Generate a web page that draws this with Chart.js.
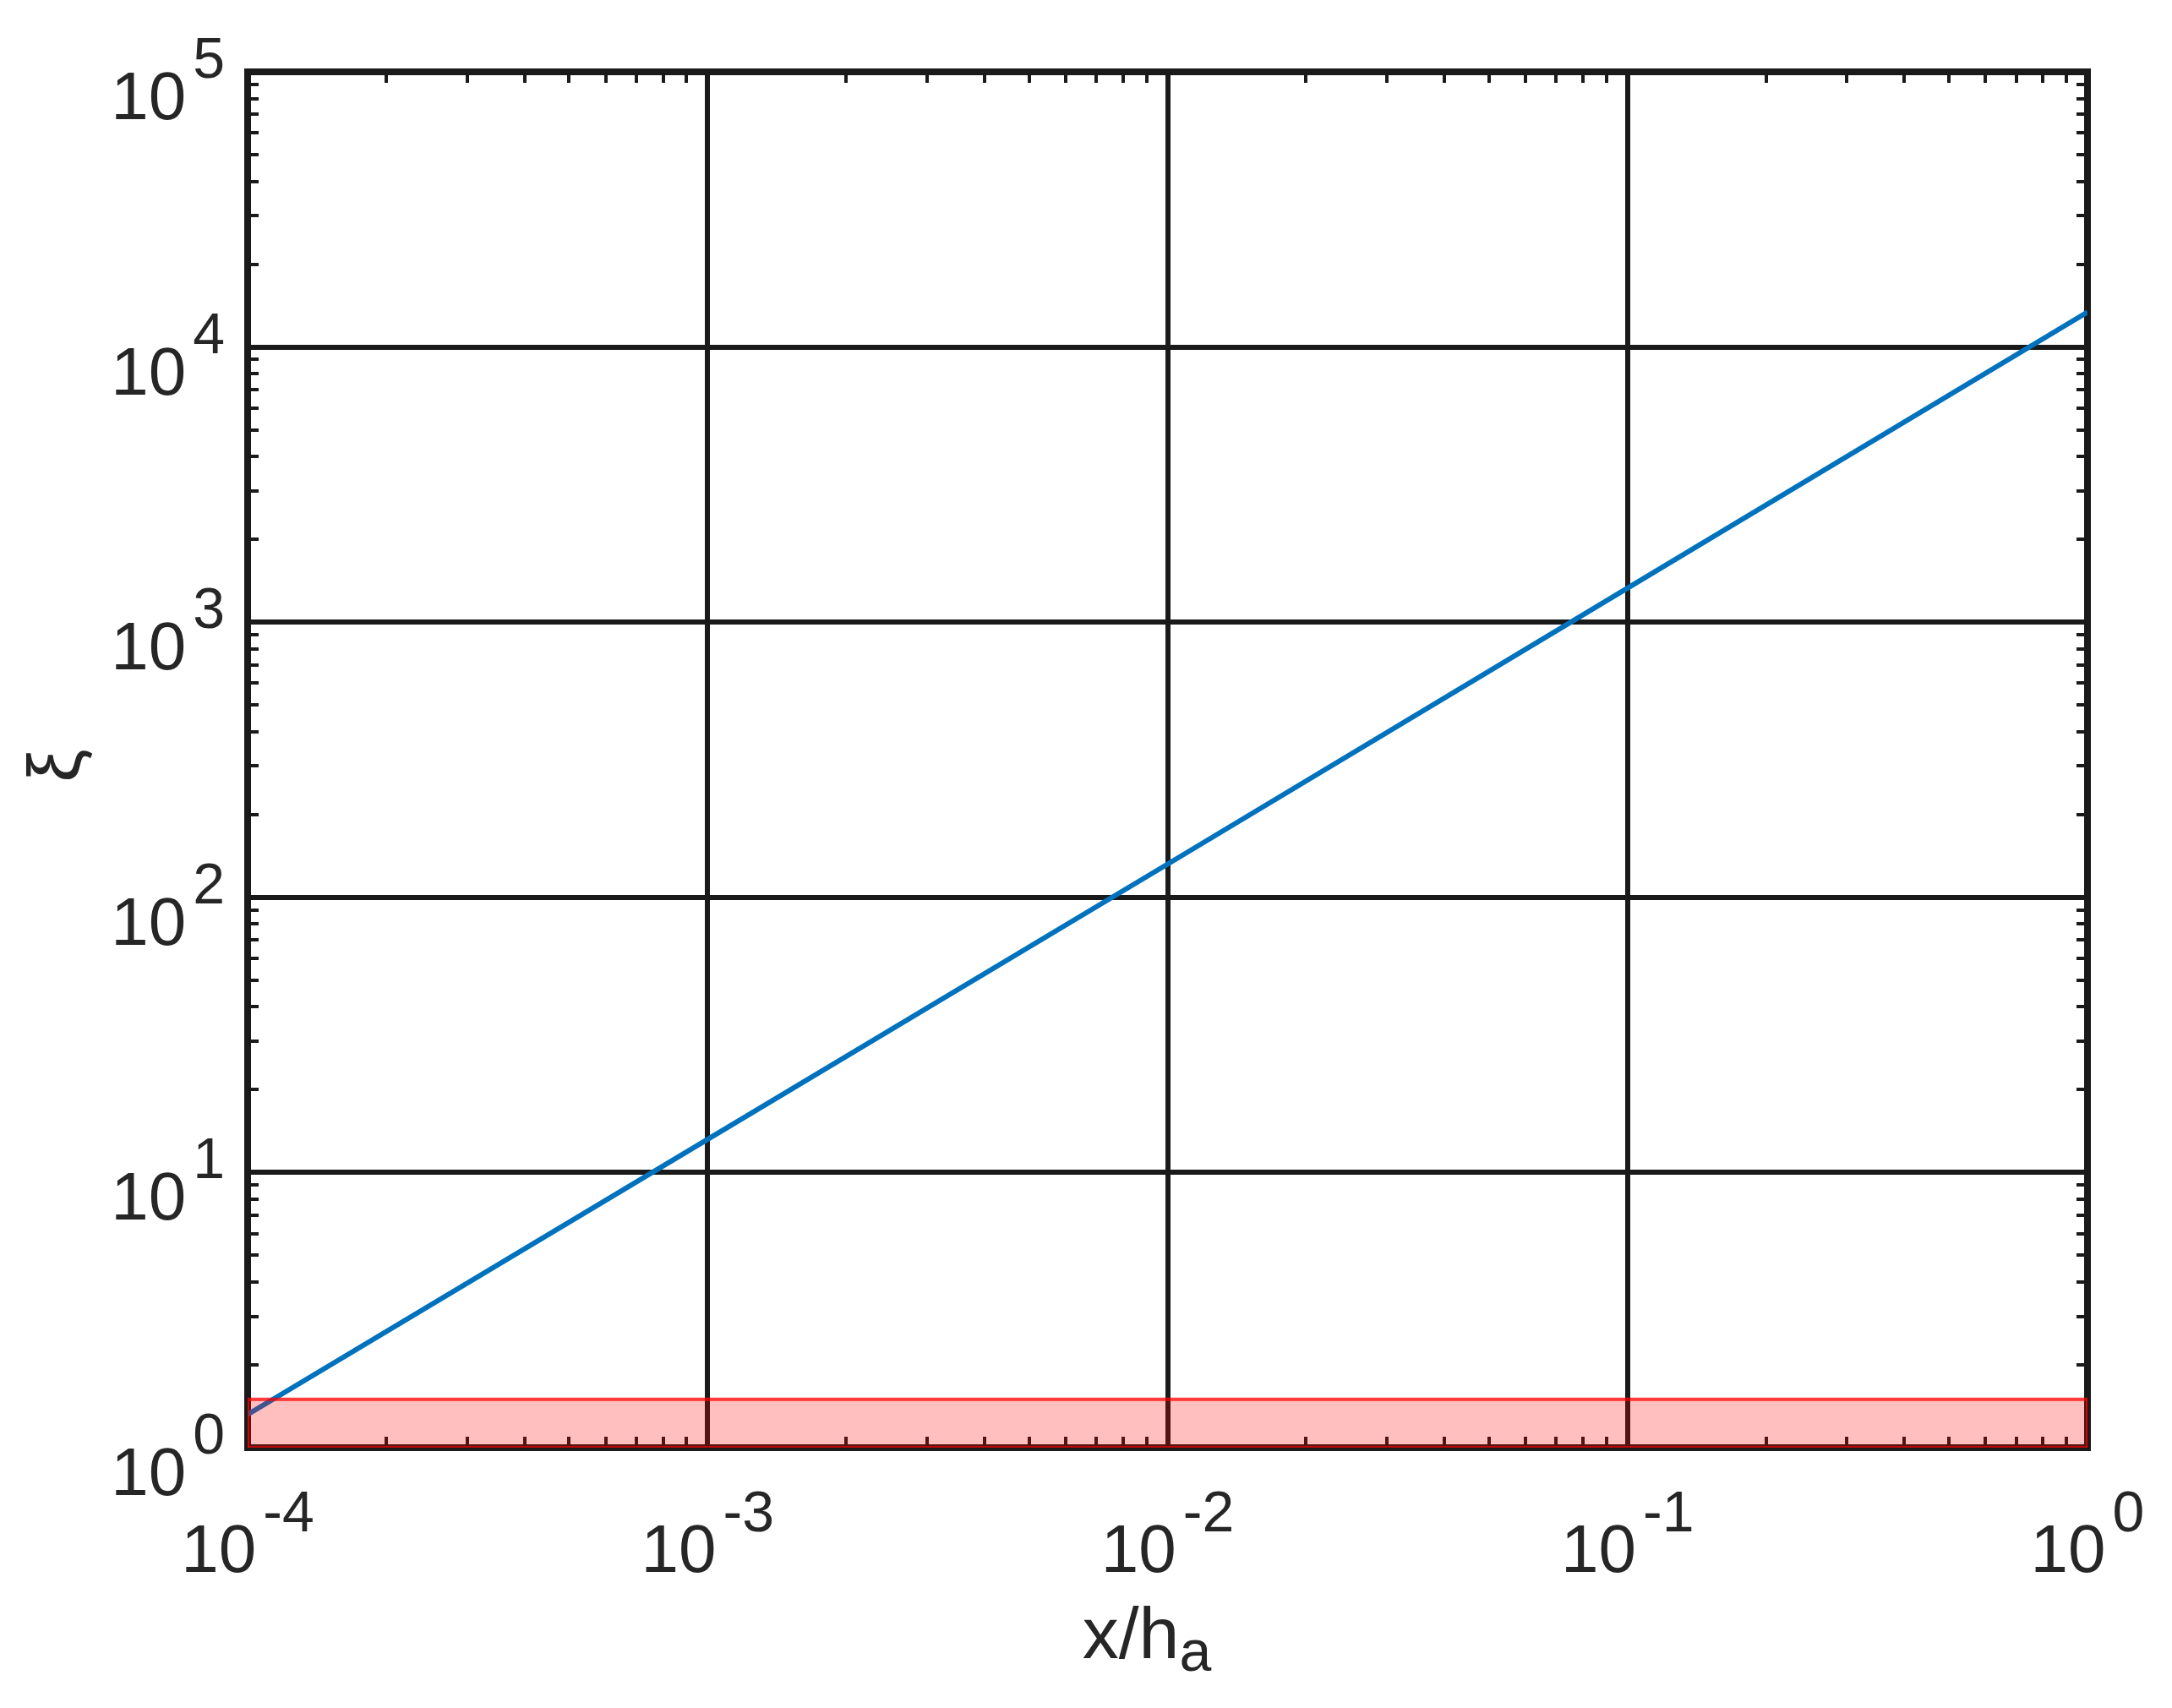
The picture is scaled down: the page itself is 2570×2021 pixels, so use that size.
<!DOCTYPE html>
<html>
<head>
<meta charset="utf-8">
<script src="https://cdn.jsdelivr.net/npm/chart.js@4.4.0/dist/chart.umd.min.js"></script>
<style>
  html, body { margin: 0; padding: 0; background: #ffffff; }
  canvas { display: block; }
</style>
</head>
<body>
<canvas id="c" width="2570" height="2021"></canvas>
<script>
// ---- data ----
const xTickExps = [-4, -3, -2, -1, 0];
const yTickExps = [0, 1, 2, 3, 4, 5];
const xValues = [1e-4, 1e-3, 1e-2, 1e-1, 1];
const xiValues = [1.32, 13.2, 132, 1330, 13400];
const bandX = [1e-4, 1e-4, 1, 1];
const bandY = [1, 1.5, 1.5, 1];
const bandBottomX = [1e-4, 1];
const bandBottomY = [1, 1];
const xTitle = 'x/h';
const xTitleSub = 'a';
const yTitle = 'ξ';

const FONT = '"Liberation Sans", Arial, Helvetica, sans-serif';
const TEXT = '#262626';
const INK = '#1a1a1a';

const decades = exps => exps.map(e => ({ value: Math.pow(10, e) }));

const decorPlugin = {
  id: 'decor',
  beforeDatasetsDraw(chart) {
    const ctx = chart.ctx;
    const a = chart.chartArea;
    const xs = chart.scales.x, ys = chart.scales.y;
    ctx.save();
    // minor ticks
    ctx.strokeStyle = INK;
    ctx.lineWidth = 4;
    const tl = 13;
    ctx.beginPath();
    for (let i = 0; i < xTickExps.length - 1; i++) {
      for (let m = 2; m <= 9; m++) {
        const px = Math.round(xs.getPixelForValue(m * Math.pow(10, xTickExps[i])));
        ctx.moveTo(px, a.bottom); ctx.lineTo(px, a.bottom - tl);
        ctx.moveTo(px, a.top); ctx.lineTo(px, a.top + tl);
      }
    }
    for (let i = 0; i < yTickExps.length - 1; i++) {
      for (let m = 2; m <= 9; m++) {
        const py = Math.round(ys.getPixelForValue(m * Math.pow(10, yTickExps[i])));
        ctx.moveTo(a.left, py); ctx.lineTo(a.left + tl, py);
        ctx.moveTo(a.right, py); ctx.lineTo(a.right - tl, py);
      }
    }
    ctx.stroke();
    // frame
    ctx.lineWidth = 8;
    ctx.strokeStyle = INK;
    ctx.strokeRect(a.left, a.top, a.right - a.left, a.bottom - a.top);
    ctx.restore();
  },
  afterDraw(chart) {
    const ctx = chart.ctx;
    const a = chart.chartArea;
    const xs = chart.scales.x, ys = chart.scales.y;
    ctx.save();
    ctx.fillStyle = TEXT;
    ctx.textBaseline = 'alphabetic';
    const baseFont = '80px ' + FONT;
    const supFont = '68px ' + FONT;
    const gap = 8;
    // x tick labels
    xTickExps.forEach(e => {
      const px = xs.getPixelForValue(Math.pow(10, e));
      ctx.font = baseFont;
      const wb = ctx.measureText('10').width;
      ctx.font = supFont;
      const sup = String(e);
      const ws = ctx.measureText(sup).width;
      const start = px - (wb + gap + ws) / 2;
      ctx.textAlign = 'left';
      ctx.font = baseFont;
      ctx.fillText('10', start, a.bottom + 147);
      ctx.font = supFont;
      ctx.fillText(sup, start + wb + gap, a.bottom + 99);
    });
    // y tick labels
    const rightEdge = 266;
    yTickExps.forEach(e => {
      const py = ys.getPixelForValue(Math.pow(10, e));
      ctx.font = supFont;
      const sup = String(e);
      const ws = ctx.measureText(sup).width;
      ctx.textAlign = 'right';
      ctx.fillText(sup, rightEdge, py + 7);
      ctx.font = baseFont;
      ctx.fillText('10', rightEdge - ws - gap, py + 56);
    });
    // x title
    ctx.textAlign = 'left';
    ctx.font = '86px ' + FONT;
    const wt = ctx.measureText(xTitle).width;
    ctx.font = '68px ' + FONT;
    const wsub = ctx.measureText(xTitleSub).width;
    const tx = 1357 - (wt + wsub) / 2;
    ctx.font = '86px ' + FONT;
    ctx.fillText(xTitle, tx, 1962);
    ctx.font = '68px ' + FONT;
    ctx.fillText(xTitleSub, tx + wt, 1977);
    // y title
    ctx.save();
    ctx.translate(94, (a.top + a.bottom) / 2 + 7);
    ctx.rotate(-Math.PI / 2);
    ctx.textAlign = 'center';
    ctx.font = '88px ' + FONT;
    ctx.fillText(yTitle, 0, 0);
    ctx.restore();
    ctx.restore();
  }
};

new Chart(document.getElementById('c'), {
  type: 'line',
  data: {
    datasets: [
      {
        label: 'band',
        data: bandX.map((x, i) => ({ x: x, y: bandY[i] })),
        borderColor: 'rgba(255,0,0,0.75)',
        borderWidth: 4,
        backgroundColor: 'rgba(255,0,0,0.25)',
        fill: 'start',
        pointRadius: 0,
        tension: 0,
        order: 0
      },
      {
        label: 'bandBottom',
        data: bandBottomX.map((x, i) => ({ x: x, y: bandBottomY[i] })),
        borderColor: 'rgba(255,0,0,0.6)',
        borderWidth: 4,
        fill: false,
        pointRadius: 0,
        order: 1
      },
      {
        label: 'xi',
        data: xValues.map((x, i) => ({ x: x, y: xiValues[i] })),
        borderColor: '#0072BD',
        borderWidth: 6,
        fill: false,
        pointRadius: 0,
        tension: 0,
        order: 2
      }
    ]
  },
  options: {
    responsive: false,
    animation: false,
    devicePixelRatio: 1,
    layout: { padding: { left: 293, right: 100, top: 85, bottom: 308 } },
    plugins: { legend: { display: false }, tooltip: { enabled: false } },
    scales: {
      x: {
        type: 'logarithmic',
        min: 1e-4, max: 1,
        afterBuildTicks: s => { s.ticks = decades(xTickExps); },
        ticks: { display: false },
        grid: { color: INK, lineWidth: 6, drawTicks: false },
        border: { display: false }
      },
      y: {
        type: 'logarithmic',
        min: 1, max: 1e5,
        afterBuildTicks: s => { s.ticks = decades(yTickExps); },
        ticks: { display: false },
        grid: { color: INK, lineWidth: 6, drawTicks: false },
        border: { display: false }
      }
    }
  },
  plugins: [decorPlugin]
});
</script>
</body>
</html>
